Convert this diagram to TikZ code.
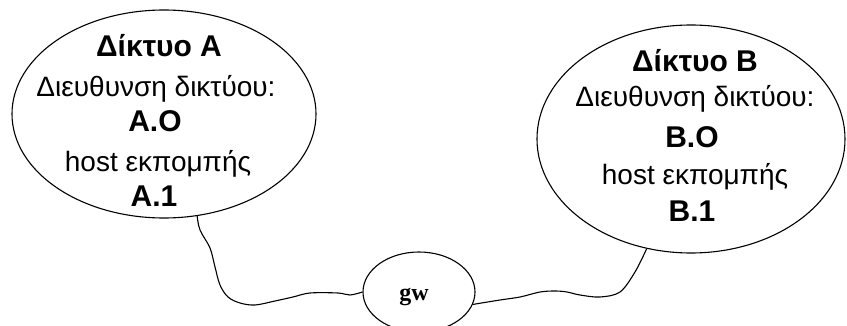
\documentclass[tikz,border=0pt]{standalone}
\usepackage{fontspec}
\setmainfont{Liberation Sans}
\newfontfamily\gwfont{Liberation Serif}
\usetikzlibrary{shapes.geometric}
\begin{document}
\begin{tikzpicture}[x=1pt,y=-1pt,
  net/.style={draw, ellipse, line width=1.1pt, inner sep=0pt},
  reg/.style={font=\fontsize{28}{34}\selectfont, anchor=base, inner sep=0pt},
  bld/.style={font=\fontsize{30}{36}\selectfont\bfseries, anchor=base, inner sep=0pt},
  gwtext/.style={font=\gwfont\bfseries\fontsize{24}{28}\selectfont, anchor=base, inner sep=0pt},
  wire/.style={line width=1.1pt, smooth, tension=0.55}]
\useasboundingbox (0,0) rectangle (847,326);
\fill[white] (0,0) rectangle (847,326);
\clip (0,0) rectangle (847,326);
% network A
\node[net, minimum width=304pt, minimum height=208pt] (A) at (164,114) {};
\node[bld] (a1) at (159,57) {Δίκτυο A};
\node[reg] (a2) at (156,97) {Διευθυνση δικτύου:};
\node[bld] (a3) at (155,132) {A.O};
\node[reg] (a4) at (158,172) {host εκπομπής};
\node[bld] (a5) at (154,207) {A.1};
% network B
\node[net, minimum width=308pt, minimum height=228pt] (B) at (691,139) {};
\node[bld] (b1) at (695,72) {Δίκτυο B};
\node[reg] (b2) at (695,107) {Διευθυνση δικτύου:};
\node[bld] (b3) at (692,148) {B.O};
\node[reg] (b4) at (695,185) {host εκπομπής};
\node[bld] (b5) at (692,222) {B.1};
% gateway
\node[net, minimum width=112pt, minimum height=80pt] (gw) at (419,292) {};
\node[gwtext] (gwt) at (414,300) {gw};
% wires
\draw[wire] plot coordinates {(A.-72.6) (200,230) (210,248) (215,267) (220,285) (228,297) (240,303) (255,305) (275,301) (293,297) (310,293) (338,293) (350,295) (gw.west)};
\draw[wire] plot coordinates {(gw.-13) (500,300) (520,297) (540,292) (555,291) (567,292) (580,295) (600,297) (620,292) (635,272) (B.-112.9)};
\end{tikzpicture}
\end{document}
